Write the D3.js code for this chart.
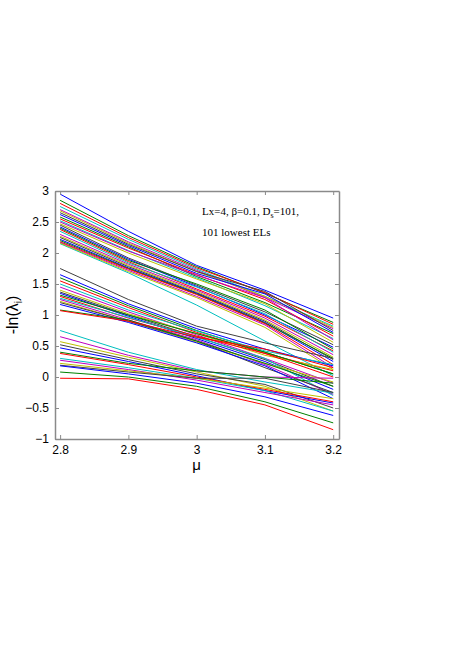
<html>
<head>
<meta charset="utf-8">
<title>-ln(lambda_i) vs mu</title>
<script src="https://cdn.jsdelivr.net/npm/d3@7"></script>
<style>
  body { margin: 0; background: #fff; }
  svg { display: block; }
  .tick text { font-family: "Liberation Sans", Arial, sans-serif; font-size: 12px; }
</style>
</head>
<body>
<div id="chart"></div>
<script>
// mu values at which each level is sampled
const mu = [2.8, 2.9, 3.0, 3.1, 3.2];

// -ln(lambda_i) for each level (one row per level)
const upperBand = [
  [2.95, 2.35, 1.80, 1.40, 0.95],
  [2.85, 2.28, 1.78, 1.35, 0.88],
  [2.80, 2.25, 1.76, 1.36, 0.85],
  [2.75, 2.22, 1.74, 1.30, 0.82],
  [2.70, 2.18, 1.72, 1.28, 0.78],
  [2.68, 2.16, 1.70, 1.30, 0.80],
  [2.65, 2.14, 1.70, 1.38, 0.75],
  [2.62, 2.12, 1.67, 1.34, 0.72],
  [2.58, 2.10, 1.62, 1.20, 0.70],
  [2.55, 2.08, 1.65, 1.25, 0.66],
  [2.52, 2.04, 1.60, 1.15, 0.62],
  [2.50, 2.03, 1.64, 1.28, 0.60],
  [2.47, 2.00, 1.58, 1.18, 0.56]
];

const secondBand = [
  [2.45, 1.92, 1.48, 1.05, 0.52],
  [2.42, 1.90, 1.46, 1.00, 0.48],
  [2.40, 1.88, 1.50, 1.08, 0.45],
  [2.38, 1.86, 1.42, 0.98, 0.42],
  [2.35, 1.84, 1.45, 1.02, 0.40],
  [2.30, 1.82, 1.40, 0.95, 0.36],
  [2.27, 1.80, 1.38, 0.92, 0.32],
  [2.25, 1.78, 1.36, 0.90, 0.28],
  [2.22, 1.76, 1.35, 0.88, 0.25],
  [2.20, 1.75, 1.34, 0.87, 0.30],
  [2.18, 1.74, 1.33, 0.86, 0.20],
  [2.15, 1.68, 1.16, 0.58, 0.02],
  [2.17, 1.72, 1.30, 0.84, 0.15],
  [2.16, 1.70, 1.28, 0.80, 0.12]
];

const middleBand = [
  [1.75, 1.25, 0.82, 0.55, 0.30],
  [1.65, 1.18, 0.78, 0.45, 0.18],
  [1.60, 1.15, 0.75, 0.40, 0.05],
  [1.55, 1.12, 0.72, 0.38, 0.10],
  [1.50, 1.08, 0.74, 0.42, 0.20],
  [1.45, 1.05, 0.68, 0.30, -0.10],
  [1.40, 1.02, 0.70, 0.35, 0.12],
  [1.37, 1.00, 0.65, 0.28, -0.15],
  [1.35, 0.98, 0.62, 0.25, -0.20],
  [1.32, 1.00, 0.70, 0.40, 0.05],
  [1.30, 0.95, 0.66, 0.38, 0.00],
  [1.27, 0.96, 0.64, 0.30, -0.30],
  [1.25, 0.92, 0.60, 0.20, -0.28],
  [1.22, 0.90, 0.56, 0.22, -0.08],
  [1.20, 0.90, 0.58, 0.15, -0.25],
  [1.17, 0.88, 0.55, 0.18, -0.35],
  [1.08, 0.92, 0.58, 0.22, -0.15],
  [1.07, 0.90, 0.64, 0.45, 0.15]
];

const lowerBand = [
  [0.75, 0.40, 0.12, -0.08, -0.26],
  [0.65, 0.35, 0.10, 0.00, -0.02],
  [0.57, 0.32, 0.08, -0.15, -0.55],
  [0.52, 0.28, 0.05, -0.12, -0.50],
  [0.47, 0.25, 0.02, -0.22, -0.42],
  [0.40, 0.22, 0.10, 0.00, -0.10],
  [0.38, 0.20, 0.00, -0.20, -0.40],
  [0.30, 0.15, -0.02, -0.22, -0.55],
  [0.27, 0.12, -0.05, -0.25, -0.45],
  [0.22, 0.10, -0.02, -0.18, -0.35],
  [0.19, 0.08, -0.02, -0.02, -0.25],
  [0.18, 0.05, -0.10, -0.32, -0.62],
  [0.08, 0.00, -0.15, -0.40, -0.74],
  [-0.02, -0.03, -0.20, -0.45, -0.85]
];

const xTicks = [2.8, 2.9, 3.0, 3.1, 3.2];
const yTicks = [-1, -0.5, 0, 0.5, 1, 1.5, 2, 2.5, 3];

// matlab default line colour order
const colorOrder = ["#0000ff", "#008000", "#ff0000", "#00bfbf", "#bf00bf", "#bfbf00", "#404040"];

const width = 457, height = 646;
const box = { left: 55, right: 339, top: 191, bottom: 439 };

const svg = d3.select("#chart").append("svg")
  .attr("width", width)
  .attr("height", height);

const x = d3.scaleLinear().domain([2.7925, 3.2085]).range([box.left, box.right]);
const y = d3.scaleLinear().domain([-1, 3]).range([box.bottom, box.top]);

const levels = upperBand.concat(secondBand, middleBand, lowerBand);

const line = d3.line()
  .x((d, i) => x(mu[i]))
  .y(d => y(d));

svg.append("g")
  .selectAll("path")
  .data(levels)
  .enter()
  .append("path")
  .attr("d", line)
  .attr("fill", "none")
  .attr("stroke", (d, i) => colorOrder[i % colorOrder.length])
  .attr("stroke-width", 1)
  .attr("stroke-linejoin", "round");

// axes, matlab style: ticks pointing inward on all sides
const axisColor = "#8a8a8a";
const bottomAxis = svg.append("g")
  .attr("transform", "translate(0," + box.bottom + ")")
  .call(d3.axisBottom(x).tickValues(xTicks).tickSizeInner(-4).tickSizeOuter(0).tickPadding(6)
    .tickFormat(d3.format("")));
const topAxis = svg.append("g")
  .attr("transform", "translate(0," + box.top + ")")
  .call(d3.axisTop(x).tickValues(xTicks).tickSizeInner(-4).tickSizeOuter(0).tickFormat(""));
const leftAxis = svg.append("g")
  .attr("transform", "translate(" + box.left + ",0)")
  .call(d3.axisLeft(y).tickValues(yTicks).tickSizeInner(-4).tickSizeOuter(0).tickPadding(6)
    .tickFormat(d => d3.format("")(d).replace("-", "\u2212")));
const rightAxis = svg.append("g")
  .attr("transform", "translate(" + box.right + ",0)")
  .call(d3.axisRight(y).tickValues(yTicks).tickSizeInner(-4).tickSizeOuter(0).tickFormat(""));

[bottomAxis, topAxis, leftAxis, rightAxis].forEach(g => {
  g.select(".domain").attr("stroke", axisColor).attr("stroke-width", 1.5);
  g.selectAll(".tick line").attr("stroke", axisColor);
  g.selectAll(".tick text").attr("fill", "#000");
});

// axis labels
svg.append("text")
  .attr("x", x(3.0))
  .attr("y", 470)
  .attr("text-anchor", "middle")
  .style("font-family", "Liberation Sans, Arial, sans-serif")
  .style("font-size", "15px")
  .text("\u03bc");

const ylab = svg.append("text")
  .attr("transform", "translate(18," + y(1) + ") rotate(-90)")
  .attr("text-anchor", "middle")
  .style("font-family", "Liberation Sans, Arial, sans-serif")
  .style("font-size", "16px");
ylab.append("tspan").text("-ln(\u03bb");
ylab.append("tspan").attr("dy", 4).style("font-size", "10px").text("i");
ylab.append("tspan").attr("dy", -4).text(")");

// annotation
const note = svg.append("text")
  .attr("x", 202)
  .attr("y", 215)
  .style("font-family", "Liberation Serif, Times New Roman, serif")
  .style("font-size", "11px");
note.append("tspan").text("Lx=4, \u03b2=0.1, D");
note.append("tspan").attr("dy", 3).style("font-size", "8px").text("s");
note.append("tspan").attr("dy", -3).text("=101,");

svg.append("text")
  .attr("x", 202)
  .attr("y", 236)
  .style("font-family", "Liberation Serif, Times New Roman, serif")
  .style("font-size", "11px")
  .text("101 lowest ELs");
</script>
</body>
</html>
